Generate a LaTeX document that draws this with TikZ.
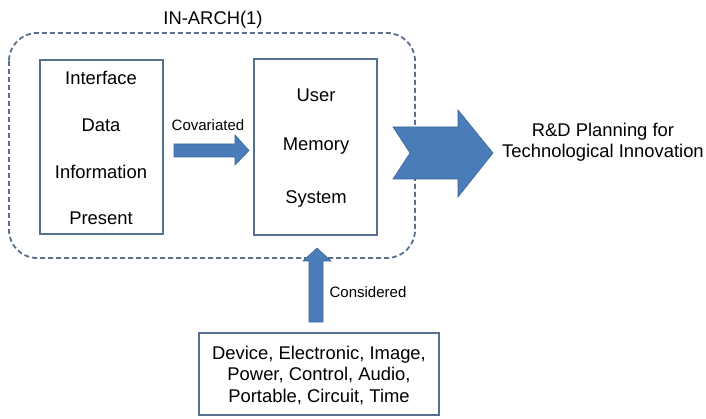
\documentclass[tikz,border=0pt]{standalone}
\usepackage{fontspec}
\setmainfont{Liberation Sans}
\begin{document}
\begin{tikzpicture}[x=1pt,y=-1pt,
  txt/.style={font=\fontsize{18.4}{21.5}\selectfont, text=black, inner sep=0pt},
  lbl/.style={font=\fontsize{15}{18}\selectfont, text=black, inner sep=0pt},
  boxline/.style={draw=boxc, line width=1.6pt},
  blockarrow/.style={fill=arrowfill, draw=arrowedge, line width=0.6pt, line join=miter}]
\definecolor{boxc}{HTML}{56718F}
\definecolor{dashc}{HTML}{5A6F8C}
\definecolor{arrowfill}{HTML}{4A7CBA}
\definecolor{arrowedge}{HTML}{3A6699}
\useasboundingbox (0,0) rectangle (706,419);
\fill[white] (0,0) rectangle (706,419);

% dashed enclosure
\draw[dashc, line width=1.8pt, dash pattern=on 5pt off 3pt, rounded corners=28pt]
  (9,33) rectangle (415,258);
\node[txt] (title) at (213,20) {IN-ARCH(1)};

% left box
\draw[boxline] (40,60) rectangle (163,234);
\node[txt] (t1) at (101,78) {Interface};
\node[txt] (t2) at (101,125) {Data};
\node[txt] (t3) at (101,172) {Information};
\node[txt] (t4) at (101,218) {Present};

% memory box
\draw[boxline] (254,59) rectangle (377,235);
\node[txt] (m1) at (316,95) {User};
\node[txt] (m2) at (316,146) {Memory};
\node[txt] (m3) at (316,199) {System};

% covariated arrow
\node[lbl] (cov) at (208,125) {Covariated};
\draw[blockarrow] (174,144) -- (235,144) -- (235,135) -- (249,150.5) -- (235,165) -- (235,157) -- (174,157) -- cycle;

% notched output arrow
\draw[blockarrow] (393,127) -- (458,127) -- (458,110) -- (493,153) -- (458,197) -- (458,179) -- (393,179) -- (410,153) -- cycle;
\node[txt, align=center] (out) at (603,142) {R\&D Planning for\\Technological Innovation};

% upward arrow
\draw[blockarrow] (309,322) -- (309,261) -- (303,261) -- (317,248) -- (331,261) -- (323,261) -- (323,322) -- cycle;
\node[lbl] (cons) at (368,292) {Considered};

% bottom box
\draw[boxline] (199,333) rectangle (439,415);
\node[txt, align=center] (feat) at (319,375.5) {Device, Electronic, Image,\\Power, Control, Audio,\\Portable, Circuit, Time};
\end{tikzpicture}
\end{document}
